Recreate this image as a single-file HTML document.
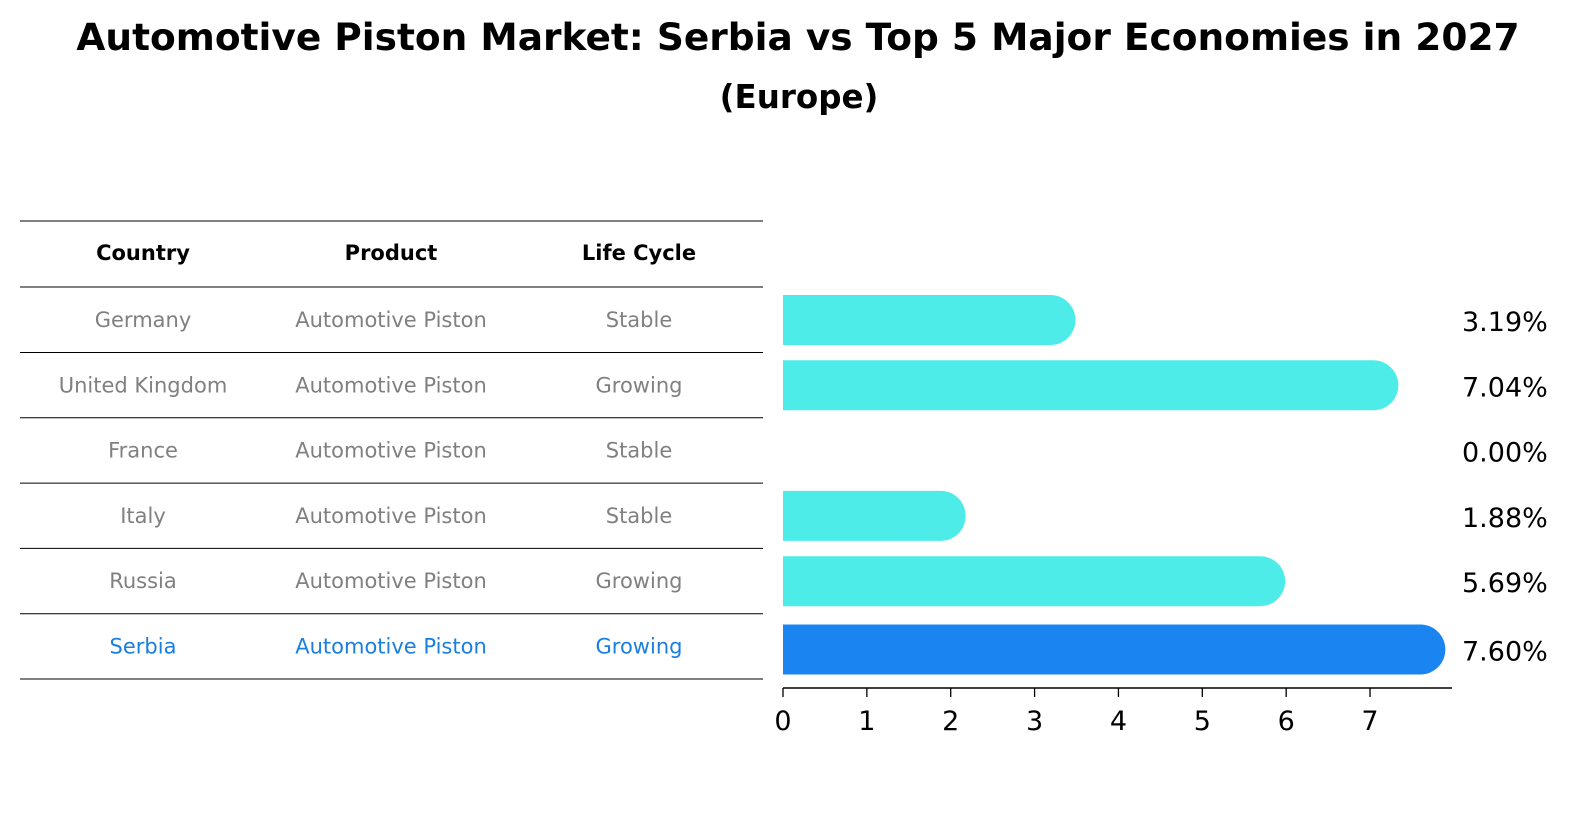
<!DOCTYPE html>
<html><head><meta charset="utf-8"><style>
body{margin:0;width:1586px;height:823px;background:#fff;font-family:"DejaVu Sans","Liberation Sans",sans-serif;overflow:hidden;position:relative}
</style></head><body>
<svg id="s" width="1586" height="823" style="position:absolute;left:0;top:0">
<text x="798" y="50" text-anchor="middle" font-size="37.5" font-weight="bold" font-family="DejaVu Sans, Liberation Sans, sans-serif">Automotive Piston Market: Serbia vs Top 5 Major Economies in 2027</text>
<text x="799" y="108" text-anchor="middle" font-size="32.5" font-weight="bold" font-family="DejaVu Sans, Liberation Sans, sans-serif">(Europe)</text>
</svg>
<script>
const countries=["Germany","United Kingdom","France","Italy","Russia","Serbia"];
const products=["Automotive Piston","Automotive Piston","Automotive Piston","Automotive Piston","Automotive Piston","Automotive Piston"];
const cycles=["Stable","Growing","Stable","Stable","Growing","Growing"];
const values=[3.19,7.04,0.00,1.88,5.69,7.60];
const ticks=[0,1,2,3,4,5,6,7];
const NS="http://www.w3.org/2000/svg",s=document.getElementById('s');
function el(t,a,txt){const e=document.createElementNS(NS,t);for(const k in a)e.setAttribute(k,a[k]);if(txt!=null)e.textContent=txt;s.appendChild(e);return e;}
const F='DejaVu Sans, Liberation Sans, sans-serif';
const x=v=>783+v*83.86;
const rowY=i=>320+i*65.3;
const colX=[143,391,639];
let hl=el('line',{x1:20,x2:763,y1:221,y2:221,stroke:'#000','stroke-width':1});


["Country","Product","Life Cycle"].forEach((h,j)=>{
 const t=el('text',{x:colX[j],y:260,'text-anchor':'middle','font-size':21,'font-weight':'bold','font-family':F},h);
 
 
});
const hr=el('line',{x1:20,x2:763,y1:287,y2:287,stroke:'#000','stroke-width':1});


countries.forEach((c,i)=>{
 const y=rowY(i),col=c==="Serbia"?'#1a7fe0':'#808080';
 [c,products[i],cycles[i]].forEach((v,j)=>{
  const t=el('text',{x:colX[j],y:y+7,'text-anchor':'middle','font-size':21,fill:col,'font-family':F},v);
  
  
 });
 const l=el('line',{x1:20,x2:763,y1:y+32.5,y2:y+32.5,stroke:'#000','stroke-width':1});
 
 
 const v=values[i];
 const yc=rowY(i)+(c==="Serbia"?3:0);
 if(v>0){
  const h=50,r=25,x1=x(v);
  const p=el('path',{d:`M${x(0)},${yc-h/2} H${x1} A${r},${r} 0 0 1 ${x1},${yc+h/2} H${x(0)} Z`,fill:c==="Serbia"?'#1a85f0':'#4eece8'});
  
  
 }
 const vt=el('text',{x:1462,y:yc+11,'font-size':27,fill:'#000','font-family':F},v.toFixed(2)+'%');
 
 
});
const ax=el('line',{x1:x(0),x2:1452,y1:688,y2:688,stroke:'#000','stroke-width':1.5});


ticks.forEach(t=>{
 const tk=el('line',{x1:x(t),x2:x(t),y1:688,y2:697,stroke:'#000','stroke-width':1.3});
 
 
 const tl=el('text',{x:x(t),y:730,'text-anchor':'middle','font-size':27,'font-family':F},String(t));
 
 
});
</script>
</body></html>
